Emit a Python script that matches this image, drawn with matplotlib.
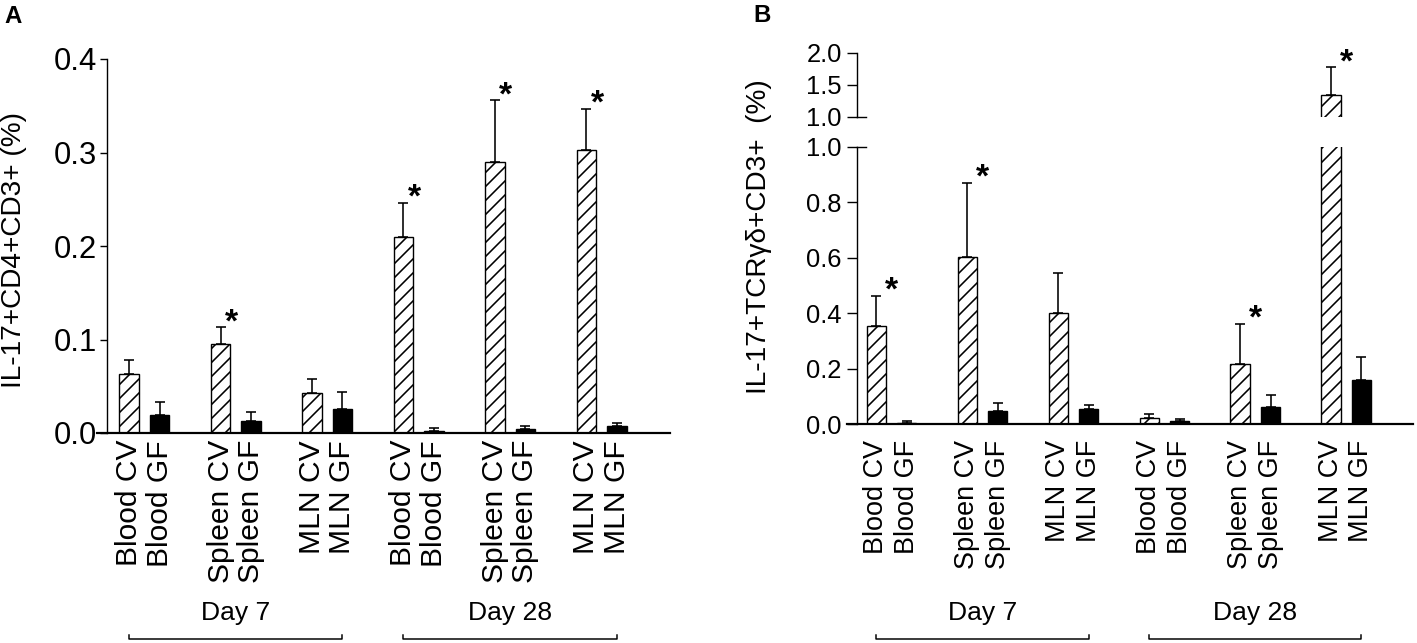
import matplotlib
matplotlib.use("Agg")
import matplotlib.pyplot as plt
from matplotlib.transforms import blended_transform_factory

DPI = 84
W, H = 1417, 643

plt.rcParams["font.family"] = ["Liberation Sans", "DejaVu Sans"]
plt.rcParams["hatch.linewidth"] = 1.6 * 72 / DPI


def px(v):
    # pixels -> points
    return v * 72 / DPI


def fx(x):
    return x / W


def fy(y):
    return 1 - y / H


# ---- data ----
tissues = ["Blood", "Spleen", "MLN"]
days = ["Day 7", "Day 28"]
groups = ["CV", "GF"]
bar_labels = [f"{t} {g}" for d in days for t in tissues for g in groups]

# panel A: IL-17+CD4+CD3+ (%)
cd4_cv = [0.063, 0.095, 0.043, 0.210, 0.290, 0.303]
cd4_cv_sem = [0.015, 0.018, 0.015, 0.036, 0.066, 0.044]
cd4_gf = [0.019, 0.013, 0.026, 0.002, 0.004, 0.007]
cd4_gf_sem = [0.014, 0.009, 0.018, 0.003, 0.003, 0.004]
cd4_star = [False, True, False, True, True, True]
cd4_yticks = [0.0, 0.1, 0.2, 0.3, 0.4]

# panel B: IL-17+TCRgd+CD3+ (%)
gd_cv = [0.354, 0.603, 0.400, 0.022, 0.217, 1.34]
gd_cv_sem = [0.108, 0.267, 0.145, 0.014, 0.144, 0.44]
gd_gf = [0.005, 0.047, 0.054, 0.011, 0.061, 0.159]
gd_gf_sem = [0.006, 0.029, 0.015, 0.007, 0.044, 0.083]
gd_star = [True, True, False, False, True, True]
gd_yticks_low = [0.0, 0.2, 0.4, 0.6, 0.8, 1.0]
gd_yticks_high = [1.0, 1.5, 2.0]

x_cv = [3 * i for i in range(6)]
x_gf = [3 * i + 1 for i in range(6)]
x_all = sorted(x_cv + x_gf)
day_spans = [(0, 7), (9, 16)]


def draw_bars(ax, cv, cv_sem, gf, gf_sem, width):
    ax.bar(x_cv, cv, width=width, color="white", edgecolor="black",
           hatch="//", linewidth=px(1.4), zorder=2)
    ax.bar(x_gf, gf, width=width, color="black", edgecolor="black",
           linewidth=px(1.4), zorder=2)
    zeros = [0] * len(cv)
    ax.errorbar(x_cv, cv, yerr=[zeros, cv_sem], fmt="none", ecolor="black",
                elinewidth=px(1.6), capsize=px(5), capthick=px(1.6), zorder=1)
    ax.errorbar(x_gf, gf, yerr=[zeros, gf_sem], fmt="none", ecolor="black",
                elinewidth=px(1.6), capsize=px(5), capthick=px(1.6), zorder=1)


def add_stars(ax, cv, cv_sem, stars, dx, limit=None):
    for x, v, e, s in zip(x_cv, cv, cv_sem, stars):
        if not s:
            continue
        if limit is not None and not limit(v + e):
            continue
        ax.annotate("*", xy=(x, v + e), xytext=(px(dx), px(-4)),
                    textcoords="offset points", ha="center", va="baseline",
                    fontsize=px(34), fontweight="bold")


def style_axis(ax, spine_x, tick_px, ytick_len, ytick_pad, xlab_px, xpad):
    for side in ("top", "right"):
        ax.spines[side].set_visible(False)
    ax.spines["left"].set_position(("data", spine_x))
    ax.spines["left"].set_linewidth(px(1.4))
    ax.spines["bottom"].set_linewidth(px(2.2))
    ax.tick_params(axis="y", direction="out", length=px(ytick_len),
                   width=px(1.4), pad=px(ytick_pad), labelsize=px(tick_px))
    ax.tick_params(axis="x", length=0, pad=px(xpad))
    ax.set_xticks(x_all)
    ax.set_xticklabels(bar_labels, rotation=90, ha="center", va="top",
                       fontsize=px(xlab_px))


def add_days(fig, ax, font_px):
    trans = blended_transform_factory(ax.transData, fig.transFigure)
    for (x0, x1), d in zip(day_spans, days):
        ax.text((x0 + x1) / 2, fy(613), d, transform=trans, ha="center",
                va="center", fontsize=px(font_px))
        ax.plot([x0, x0, x1, x1], [fy(635), fy(639), fy(639), fy(635)],
                transform=trans, clip_on=False, color="black", lw=px(1.5))


fig = plt.figure(figsize=(W / DPI, H / DPI), dpi=DPI)

# ---- panel A ----
axA = fig.add_axes([fx(97), fy(433), fx(670) - fx(97), (433 - 59) / H])
draw_bars(axA, cd4_cv, cd4_cv_sem, cd4_gf, cd4_gf_sem, 0.65)
axA.set_xlim(-1.05, 17.74)
axA.set_ylim(0, 0.4)
axA.set_yticks(cd4_yticks)
axA.set_yticklabels([f"{v:.1f}" for v in cd4_yticks])
style_axis(axA, -0.72, 31, 7, 3, 30, 7)
add_stars(axA, cd4_cv, cd4_cv_sem, cd4_star, 11)
add_days(fig, axA, 26.5)
fig.text(fx(14), fy(250), "IL-17+CD4+CD3+ (%)", rotation=90, ha="center",
         va="center", fontsize=px(28))
fig.text(fx(4), fy(5), "A", ha="left", va="top", fontweight="bold",
         fontsize=px(24))

# ---- panel B (broken y axis) ----
axB = fig.add_axes([fx(847), fy(424), fx(1413) - fx(847), (424 - 147) / H])
axB2 = fig.add_axes([fx(847), fy(117), fx(1413) - fx(847), (117 - 53) / H])
for ax in (axB, axB2):
    draw_bars(ax, gd_cv, gd_cv_sem, gd_gf, gd_gf_sem, 0.64)
    ax.set_xlim(-0.97, 17.7)

axB.set_ylim(0, 1.0)
axB.set_yticks(gd_yticks_low)
axB.set_yticklabels([f"{v:.1f}" for v in gd_yticks_low])
style_axis(axB, -0.65, 25.5, 10, 5, 27, 16)
add_stars(axB, gd_cv, gd_cv_sem, gd_star, 15, limit=lambda t: t <= 1.0)
add_days(fig, axB, 26.5)

axB2.set_ylim(1.0, 2.0)
axB2.set_yticks(gd_yticks_high)
axB2.set_yticklabels([f"{v:.1f}" for v in gd_yticks_high])
for side in ("top", "right", "bottom"):
    axB2.spines[side].set_visible(False)
axB2.spines["left"].set_position(("data", -0.65))
axB2.spines["left"].set_linewidth(px(1.4))
axB2.tick_params(axis="y", direction="out", length=px(10), width=px(1.4),
                 pad=px(5), labelsize=px(25.5))
axB2.set_xticks([])
add_stars(axB2, gd_cv, gd_cv_sem, gd_star, 15, limit=lambda t: t > 1.0)

# break marks
for ax in (axB, axB2):
    ax.plot([-0.65, -0.35], [1.0, 1.0], color="black", lw=px(1.4),
            clip_on=False)

fig.text(fx(759), fy(237), "IL-17+TCR\u03b3\u03b4+CD3+  (%)", rotation=90,
         ha="center", va="center", fontsize=px(28))
fig.text(fx(753), fy(4), "B", ha="left", va="top", fontweight="bold",
         fontsize=px(24))

fig.savefig("out.png", dpi=DPI)
